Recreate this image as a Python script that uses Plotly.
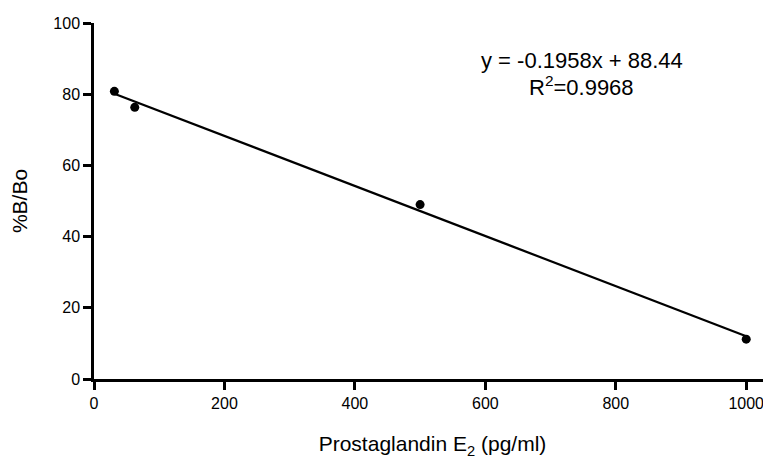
import numpy as np
import plotly.graph_objects as go

# Data
conc = [31.25, 62.5, 500, 1000]          # Prostaglandin E2 (pg/ml)
pct_b_b0 = [80.8, 76.3, 49.0, 11.2]       # %B/Bo
fit_label = "y = -0.1958x + 88.44"
r2_label = "R<sup>2</sup>=0.9968"
x_ticks = [0, 200, 400, 600, 800, 1000]
y_ticks = [0, 20, 40, 60, 80, 100]

# Linear regression line through the plotted points
slope, intercept = np.polyfit(conc, pct_b_b0, 1)
line_x = [min(conc), max(conc)]
line_y = [slope * v + intercept for v in line_x]

FONT = "Liberation Sans, Arial, sans-serif"

fig = go.Figure()
fig.add_trace(go.Scatter(x=line_x, y=line_y, mode="lines",
                         line=dict(color="black", width=2.2), showlegend=False,
                         hoverinfo="skip"))
fig.add_trace(go.Scatter(x=conc, y=pct_b_b0, mode="markers",
                         marker=dict(color="black", size=9), showlegend=False))

fig.add_annotation(x=748, y=89.4, xref="x", yref="y", text=fit_label,
                   showarrow=False, font=dict(size=22, color="black", family=FONT))
fig.add_annotation(x=748, y=82.3, xref="x", yref="y", text=r2_label,
                   showarrow=False, font=dict(size=22, color="black", family=FONT))

axis_common = dict(showline=True, linecolor="black", linewidth=2.5, ticks="outside",
                   ticklen=8, tickwidth=2.5, tickcolor="black", showgrid=False,
                   zeroline=False, automargin=False,
                   tickfont=dict(size=16, color="black", family=FONT))

fig.update_xaxes(range=[0, 1038], tickvals=x_ticks, **axis_common,
                 title=dict(text="Prostaglandin E<sub>2</sub> (pg/ml)",
                            font=dict(size=21, color="black", family=FONT), standoff=26))
fig.update_yaxes(range=[0, 100], tickvals=y_ticks, **axis_common,
                 title=dict(text="%B/Bo", font=dict(size=21, color="black", family=FONT),
                            standoff=26))

# The page body has an 8px margin, so the figure is sized to fill the rest of the window
fig.update_layout(width=763, height=456, plot_bgcolor="white", paper_bgcolor="white",
                  margin=dict(l=86, r=0, t=15, b=84.5), font=dict(family=FONT, color="black"))

fig.write_html("out.html")
